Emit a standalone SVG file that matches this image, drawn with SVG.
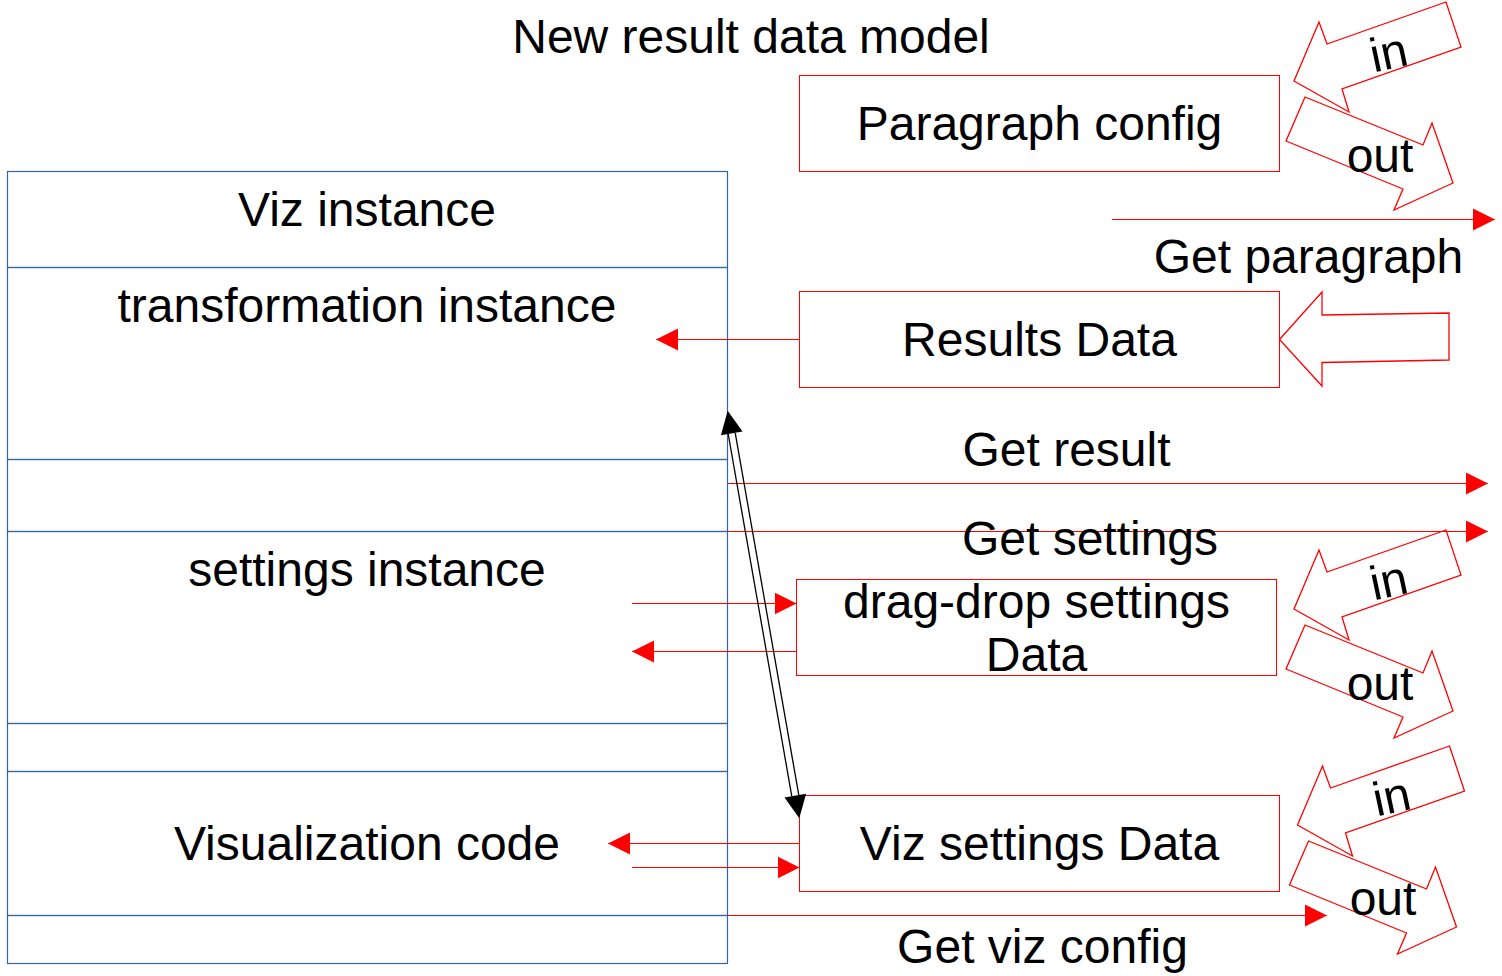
<svg xmlns="http://www.w3.org/2000/svg" width="1502" height="976" viewBox="0 0 1502 976">
<style>
text{font-family:"Liberation Sans",Arial,sans-serif;font-size:48px;fill:#000;text-anchor:middle}
.blue{fill:none;stroke:#3465a4;stroke-width:1.2}
.rbox{fill:#fff;stroke:#ff0000;stroke-width:1}
.rl{fill:none;stroke:#ff0000;stroke-width:1.2}
.hollow{fill:#fff;stroke:#ff0000;stroke-width:1.3;stroke-linejoin:miter}
.blk{fill:none;stroke:#000;stroke-width:1.3}
</style>
<defs>
<marker id="ra" markerUnits="userSpaceOnUse" markerWidth="22" markerHeight="22" refX="22" refY="11" orient="auto" viewBox="0 0 22 22">
<path d="M0,0 L22,11 L0,22 Z" fill="#ff0000"/>
</marker>
<g id="inout">
<polygon class="hollow" points="1294,81 1319,22 1327,44 1446,2 1461,47 1342,89 1349,112"/>
<polygon class="hollow" points="1305,97 1423,145 1432,123 1453,183 1394,210 1403,189 1286,141"/>
</g>
</defs>
<rect width="1502" height="976" fill="#fff"/>

<text x="751" y="53">New result data model</text>

<g id="viz-instance">
<rect class="blue" x="7.5" y="171.5" width="720" height="96"/>
<text x="367" y="226">Viz instance</text>
</g>
<g id="transformation-instance">
<rect class="blue" x="7.5" y="267.5" width="720" height="192"/>
<text x="367" y="322">transformation instance</text>
</g>
<g id="blank1">
<rect class="blue" x="7.5" y="459.5" width="720" height="72"/>
</g>
<g id="settings-instance">
<rect class="blue" x="7.5" y="531.5" width="720" height="192"/>
<text x="367" y="586">settings instance</text>
</g>
<g id="blank2">
<rect class="blue" x="7.5" y="723.5" width="720" height="48"/>
</g>
<g id="visualization-code">
<rect class="blue" x="7.5" y="771.5" width="720" height="144"/>
<text x="367" y="860">Visualization code</text>
</g>
<g id="blank3">
<rect class="blue" x="7.5" y="915.5" width="720" height="48"/>
</g>

<g id="paragraph-config">
<rect class="rbox" x="799.5" y="75.5" width="480" height="96"/>
<text x="1039.5" y="140">Paragraph config</text>
</g>
<g id="results-data">
<rect class="rbox" x="799.5" y="291.5" width="480" height="96"/>
<text x="1039.5" y="356">Results Data</text>
</g>
<g id="dragdrop-settings">
<rect class="rbox" x="796.5" y="579.5" width="480" height="96"/>
<text x="1036.5" y="618">drag-drop settings</text>
<text x="1036.5" y="671">Data</text>
</g>
<g id="viz-settings">
<rect class="rbox" x="799.5" y="795.5" width="480" height="96"/>
<text x="1039.5" y="860">Viz settings Data</text>
</g>

<g id="inout-1">
<use href="#inout"/>
<text x="1389" y="69" transform="rotate(-12 1389 55)">in</text>
<text x="1380" y="172">out</text>
</g>
<g id="inout-2">
<use href="#inout" transform="translate(0,528)"/>
<text x="1389" y="597" transform="rotate(-12 1389 583)">in</text>
<text x="1380" y="700">out</text>
</g>
<g id="inout-3">
<use href="#inout" transform="translate(3.5,744)"/>
<text x="1392" y="813" transform="rotate(-12 1392 799)">in</text>
<text x="1383" y="915">out</text>
</g>
<g id="results-in">
<polygon class="hollow" points="1279.5,339.5 1322,292 1322,315 1449,313 1449,360 1322,362.5 1322,386"/>
</g>

<g id="connectors">
<line class="rl" x1="1112" y1="219.5" x2="1495" y2="219.5" marker-end="url(#ra)"/>
<line class="rl" x1="799.5" y1="339.5" x2="656" y2="339.5" marker-end="url(#ra)"/>
<line class="rl" x1="728" y1="483.5" x2="1488" y2="483.5" marker-end="url(#ra)"/>
<line class="rl" x1="728" y1="531.5" x2="1488" y2="531.5" marker-end="url(#ra)"/>
<line class="rl" x1="632" y1="603.5" x2="796.5" y2="603.5" marker-end="url(#ra)"/>
<line class="rl" x1="796.5" y1="651.5" x2="632" y2="651.5" marker-end="url(#ra)"/>
<line class="rl" x1="799.5" y1="843.5" x2="608" y2="843.5" marker-end="url(#ra)"/>
<line class="rl" x1="632" y1="867.5" x2="799.5" y2="867.5" marker-end="url(#ra)"/>
<line class="rl" x1="728" y1="915.5" x2="1327" y2="915.5" marker-end="url(#ra)"/>
<line class="blk" x1="728.2" y1="434.0" x2="791.8" y2="796.3"/>
<line class="blk" x1="735.2" y1="432.8" x2="798.8" y2="795.1"/>
<polygon points="727.7,410.7 742.5,431.5 720.9,435.3" fill="#000"/>
<polygon points="799.3,818.3 806.1,793.8 784.5,797.6" fill="#000"/>
</g>

<text x="1308.5" y="273">Get paragraph</text>
<text x="1066.5" y="466">Get result</text>
<text x="1090" y="555">Get settings</text>
<text x="1042.5" y="963">Get viz config</text>
</svg>
